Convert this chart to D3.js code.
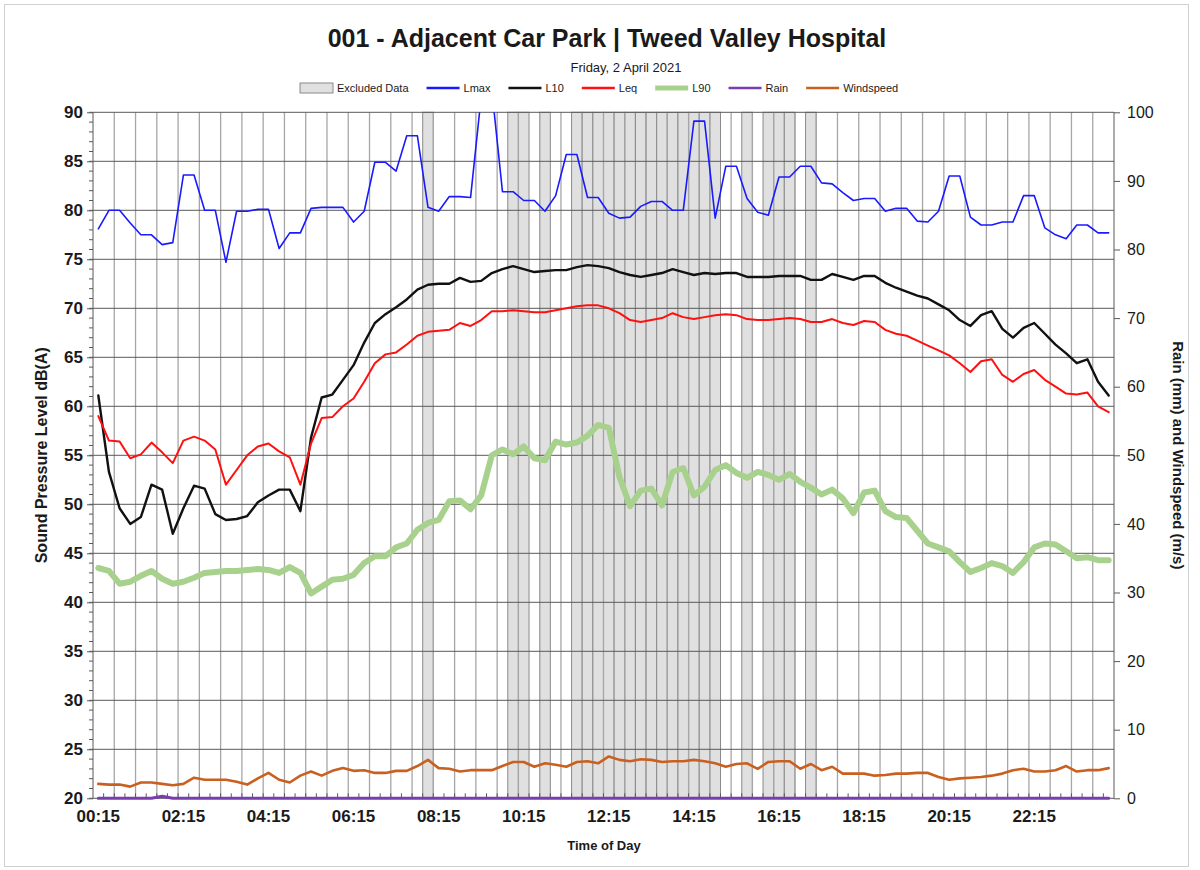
<!DOCTYPE html>
<html>
<head>
<meta charset="utf-8">
<script src="https://cdn.jsdelivr.net/npm/d3@7"></script>
<style>
  body { margin: 0; background: #fff; }
  text { font-family: "Liberation Sans", Arial, sans-serif; fill: #1a1a1a; }
</style>
</head>
<body>
<div id="chart"></div>
<script>
// 15 minute intervals, 00:15 .. 24:00
var times = d3.range(96).map(function(i) {
    var m = 15 + i * 15;
    return d3.format("02")(Math.floor(m / 60)) + ":" + d3.format("02")(m % 60);
});
var tickLabels = ["00:15","02:15","04:15","06:15","08:15","10:15","12:15","14:15","16:15","18:15","20:15","22:15"];

var excluded = ["08:00","10:00","10:15","10:45","11:30","11:45","12:00","12:15","12:30","12:45",
    "13:00","13:15","13:30","13:45","14:00","14:15","14:30","14:45","15:30","16:00","16:15","16:30","17:00"];

var lmax = [78.1,80.0,80.0,78.7,77.5,77.5,76.5,76.7,83.6,83.6,
    80.0,80.0,74.7,79.9,79.9,80.1,80.1,76.1,77.7,77.7,
    80.2,80.3,80.3,80.3,78.8,79.9,84.9,84.9,84.0,87.6,
    87.6,80.3,79.9,81.4,81.4,81.3,91.6,92.3,81.9,81.9,
    81.0,81.0,79.9,81.5,85.7,85.7,81.3,81.3,79.7,79.2,
    79.3,80.4,80.9,80.9,80.0,80.0,89.1,89.1,79.2,84.5,
    84.5,81.2,79.8,79.5,83.4,83.4,84.5,84.5,82.8,82.7,
    81.8,81.0,81.2,81.2,79.9,80.2,80.2,78.9,78.8,79.9,
    83.5,83.5,79.3,78.5,78.5,78.8,78.8,81.5,81.5,78.2,
    77.5,77.1,78.5,78.5,77.7,77.7];

var l10 = [61.1,53.3,49.6,48.0,48.7,52.0,51.5,47.0,49.6,51.9,
    51.6,49.0,48.4,48.5,48.8,50.2,50.9,51.5,51.5,49.3,
    56.8,60.9,61.2,62.7,64.2,66.5,68.5,69.4,70.1,70.9,
    71.9,72.4,72.5,72.5,73.1,72.7,72.8,73.6,74.0,74.3,
    74.0,73.7,73.8,73.9,73.9,74.2,74.4,74.3,74.1,73.7,
    73.4,73.2,73.4,73.6,74.0,73.7,73.4,73.6,73.5,73.6,
    73.6,73.2,73.2,73.2,73.3,73.3,73.3,72.9,72.9,73.5,
    73.2,72.9,73.3,73.3,72.6,72.1,71.7,71.3,71.0,70.4,
    69.8,68.8,68.2,69.3,69.7,67.9,67.0,68.0,68.5,67.4,
    66.3,65.4,64.4,64.8,62.5,61.1];

var leq = [59.0,56.5,56.4,54.7,55.1,56.3,55.3,54.2,56.5,56.9,
    56.5,55.6,52.0,53.5,55.0,55.9,56.2,55.4,54.8,52.0,
    56.2,58.8,58.9,60.0,60.8,62.5,64.4,65.3,65.5,66.3,
    67.2,67.6,67.7,67.8,68.5,68.2,68.8,69.7,69.7,69.8,
    69.7,69.6,69.6,69.8,70.0,70.2,70.3,70.3,70.0,69.5,
    68.8,68.6,68.8,69.0,69.5,69.1,68.9,69.1,69.3,69.4,
    69.3,68.9,68.8,68.8,68.9,69.0,68.9,68.6,68.6,68.9,
    68.5,68.3,68.7,68.6,67.8,67.4,67.2,66.7,66.2,65.7,
    65.2,64.4,63.5,64.6,64.8,63.2,62.5,63.3,63.7,62.7,
    62.0,61.3,61.2,61.4,60.0,59.4];

var l90 = [43.5,43.2,41.9,42.1,42.7,43.2,42.4,41.9,42.1,42.5,
    43.0,43.1,43.2,43.2,43.3,43.4,43.3,43.0,43.6,43.0,
    40.9,41.6,42.3,42.4,42.8,44.0,44.7,44.7,45.6,46.0,
    47.4,48.1,48.4,50.3,50.4,49.5,50.9,55.0,55.6,55.1,
    55.9,54.7,54.5,56.4,56.1,56.3,57.0,58.1,57.8,52.8,
    49.8,51.4,51.6,49.9,53.3,53.7,50.9,51.8,53.5,54.0,
    53.2,52.7,53.3,53.0,52.5,53.1,52.3,51.7,51.0,51.5,
    50.6,49.1,51.2,51.4,49.3,48.7,48.6,47.3,46.0,45.6,
    45.2,44.1,43.1,43.5,44.0,43.7,43.0,44.1,45.6,46.0,
    45.9,45.2,44.5,44.6,44.3,44.3];

var rain = [0,0,0,0,0,0,0.3,0,0,0,
    0,0,0,0,0,0,0,0,0,0,
    0,0,0,0,0,0,0,0,0,0,
    0,0,0,0,0,0,0,0,0,0,
    0,0,0,0,0,0,0,0,0,0,
    0,0,0,0,0,0,0,0,0,0,
    0,0,0,0,0,0,0,0,0,0,
    0,0,0,0,0,0,0,0,0,0,
    0,0,0,0,0,0,0,0,0,0,
    0,0,0,0,0,0];

var wind = [2.1,2.0,2.0,1.7,2.3,2.3,2.1,1.9,2.1,3.0,
    2.7,2.7,2.7,2.4,2.0,2.9,3.7,2.7,2.3,3.3,
    3.9,3.3,4.0,4.4,4.0,4.1,3.7,3.7,4.0,4.0,
    4.7,5.6,4.4,4.3,3.9,4.1,4.1,4.1,4.7,5.3,
    5.3,4.6,5.1,4.9,4.6,5.3,5.4,5.1,6.1,5.6,
    5.4,5.7,5.6,5.3,5.4,5.4,5.6,5.4,5.1,4.6,
    5.0,5.1,4.3,5.3,5.4,5.4,4.3,5.0,4.1,4.6,
    3.6,3.6,3.6,3.3,3.4,3.6,3.6,3.7,3.7,3.1,
    2.7,2.9,3.0,3.1,3.3,3.6,4.1,4.3,3.9,3.9,
    4.1,4.7,3.9,4.1,4.1,4.4];

var width = 1200, height = 870;
var plotLeft = 93, plotRight = 1114, plotTop = 112.3, plotBottom = 798.3;

var svg = d3.select("#chart").append("svg")
    .attr("width", width)
    .attr("height", height);

// chart area border
svg.append("rect")
    .attr("x", 4.5).attr("y", 4.5)
    .attr("width", 1184).attr("height", 862)
    .attr("fill", "none")
    .attr("stroke", "#d0d0d0");

var x = d3.scaleBand().domain(times).range([plotLeft, plotRight]).padding(0);
var bw = x.bandwidth();
var cx = function(t) { return x(t) + bw / 2; };
var y = d3.scaleLinear().domain([20, 90]).range([plotBottom, plotTop]);
var y2 = d3.scaleLinear().domain([0, 100]).range([plotBottom, plotTop]);

// excluded data columns
svg.append("g").selectAll("rect")
    .data(excluded)
    .enter().append("rect")
    .attr("x", function(d) { return x(d); })
    .attr("y", y2(100))
    .attr("width", bw)
    .attr("height", y2(0) - y2(100))
    .attr("fill", "#e0e0e0")
    .attr("stroke", "#8a8a8a")
    .attr("stroke-width", 1);

// vertical gridlines every 2 intervals
var vlines = times.filter(function(d, i) { return i > 0 && i % 2 === 0; });
svg.append("g").selectAll("line")
    .data(vlines)
    .enter().append("line")
    .attr("x1", function(d) { return x(d); })
    .attr("x2", function(d) { return x(d); })
    .attr("y1", plotTop).attr("y2", plotBottom)
    .attr("stroke", "#a6a6a6")
    .attr("stroke-width", 1.3);

// horizontal gridlines
svg.append("g").selectAll("line")
    .data(d3.range(20, 91, 5))
    .enter().append("line")
    .attr("x1", plotLeft).attr("x2", plotRight)
    .attr("y1", function(d) { return y(d); })
    .attr("y2", function(d) { return y(d); })
    .attr("stroke", "#595959")
    .attr("stroke-width", 1);

// plot frame sides
svg.append("line").attr("x1", plotLeft).attr("x2", plotLeft).attr("y1", plotTop).attr("y2", plotBottom)
    .attr("stroke", "#595959");
svg.append("line").attr("x1", plotRight).attr("x2", plotRight).attr("y1", plotTop).attr("y2", plotBottom)
    .attr("stroke", "#595959");

// small category ticks along the bottom
svg.append("g").selectAll("line")
    .data(times.slice(1))
    .enter().append("line")
    .attr("x1", function(d) { return x(d); })
    .attr("x2", function(d) { return x(d); })
    .attr("y1", plotBottom - 5).attr("y2", plotBottom)
    .attr("stroke", "#595959");

// clip at the top only (Lmax runs past 90), keep room below for the rain line
svg.append("clipPath").attr("id", "plotclip")
    .append("rect")
    .attr("x", plotLeft).attr("y", plotTop)
    .attr("width", plotRight - plotLeft).attr("height", plotBottom - plotTop + 5);

var plot = svg.append("g").attr("clip-path", "url(#plotclip)");

function drawLine(values, scale, color, w) {
    var line = d3.line()
        .x(function(d, i) { return cx(times[i]); })
        .y(function(d) { return scale(d); });
    plot.append("path")
        .datum(values)
        .attr("d", line)
        .attr("fill", "none")
        .attr("stroke", color)
        .attr("stroke-width", w)
        .attr("stroke-linejoin", "round")
        .attr("stroke-linecap", "round");
}

drawLine(l90, y, "#a9d18e", 6);
drawLine(lmax, y, "#1a1aff", 1.6);
drawLine(l10, y, "#111111", 2.4);
drawLine(leq, y, "#ff1010", 2);
drawLine(wind, y2, "#c9601f", 2.6);
drawLine(rain, y2, "#7a3db0", 3);

// left axis
var leftAxis = svg.append("g")
    .attr("transform", "translate(" + plotLeft + ",0)")
    .call(d3.axisLeft(y).tickValues(d3.range(20, 91, 5)).tickSize(6).tickPadding(4));
leftAxis.select(".domain").remove();
leftAxis.selectAll("line").attr("stroke", "#595959");
leftAxis.selectAll("text")
    .attr("font-size", 17).attr("font-weight", "bold")
    .style("font-family", "Liberation Sans, Arial, sans-serif").attr("fill", "#1a1a1a");

svg.append("g").selectAll("line")
    .data(d3.range(20, 91, 1))
    .enter().append("line")
    .attr("x1", plotLeft - 4).attr("x2", plotLeft)
    .attr("y1", function(d) { return y(d); })
    .attr("y2", function(d) { return y(d); })
    .attr("stroke", "#595959");

// right axis
var rightAxis = svg.append("g")
    .attr("transform", "translate(" + plotRight + ",0)")
    .call(d3.axisRight(y2).tickValues(d3.range(0, 101, 10)).tickSize(6).tickPadding(7));
rightAxis.select(".domain").remove();
rightAxis.selectAll("line").attr("stroke", "#595959");
rightAxis.selectAll("text")
    .attr("font-size", 16)
    .style("font-family", "Liberation Sans, Arial, sans-serif").attr("fill", "#1a1a1a");

// bottom axis labels
var bottomAxis = svg.append("g")
    .attr("transform", "translate(0," + plotBottom + ")")
    .call(d3.axisBottom(x).tickValues(tickLabels).tickSize(0).tickPadding(12));
bottomAxis.select(".domain").remove();
bottomAxis.selectAll("text")
    .attr("font-size", 17).attr("font-weight", "bold")
    .style("font-family", "Liberation Sans, Arial, sans-serif").attr("fill", "#1a1a1a");

// titles
svg.append("text")
    .attr("x", 607).attr("y", 47)
    .attr("text-anchor", "middle")
    .attr("font-size", 25).attr("font-weight", "bold")
    .style("font-family", "'Liberation Sans Narrow', 'Arial Narrow', 'Liberation Sans', sans-serif")
    .text("001 - Adjacent Car Park | Tweed Valley Hospital");

svg.append("text")
    .attr("x", 626).attr("y", 72)
    .attr("text-anchor", "middle")
    .attr("font-size", 13)
    .text("Friday, 2 April 2021");

svg.append("text")
    .attr("x", 604).attr("y", 850)
    .attr("text-anchor", "middle")
    .attr("font-size", 13).attr("font-weight", "bold")
    .text("Time of Day");

svg.append("text")
    .attr("transform", "translate(47," + (plotTop + plotBottom) / 2 + ") rotate(-90)")
    .attr("text-anchor", "middle")
    .attr("font-size", 16).attr("font-weight", "bold")
    .text("Sound Pressure Level dB(A)");

svg.append("text")
    .attr("transform", "translate(1173," + (plotTop + plotBottom) / 2 + ") rotate(90)")
    .attr("text-anchor", "middle")
    .attr("font-size", 15).attr("font-weight", "bold")
    .text("Rain (mm) and Windspeed (m/s)");

// legend
var legendNames = ["Excluded Data", "Lmax", "L10", "Leq", "L90", "Rain", "Windspeed"];
var legendColors = ["#e0e0e0", "#1a1aff", "#111111", "#ff1010", "#a9d18e", "#7a3db0", "#c9601f"];
var legendWidths = [0, 2.5, 2.5, 2.5, 5, 2.5, 2.5];

var legend = svg.append("g");
var lx = 300, ly = 88;
legendNames.forEach(function(name, i) {
    if (i === 0) {
        legend.append("rect")
            .attr("x", lx).attr("y", ly - 5)
            .attr("width", 33).attr("height", 10)
            .attr("fill", legendColors[i])
            .attr("stroke", "#8a8a8a");
    } else {
        legend.append("line")
            .attr("x1", lx).attr("x2", lx + 33)
            .attr("y1", ly).attr("y2", ly)
            .attr("stroke", legendColors[i])
            .attr("stroke-width", legendWidths[i]);
    }
    var t = legend.append("text")
        .attr("x", lx + 37).attr("y", ly + 4)
        .attr("font-size", 11)
        .text(name);
    lx = lx + 37 + t.node().getComputedTextLength() + 18;
});
</script>
</body>
</html>
